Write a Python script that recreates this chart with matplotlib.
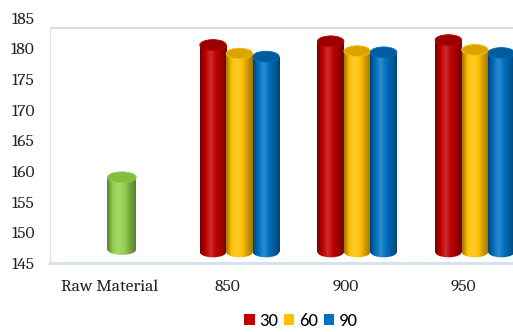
import matplotlib
matplotlib.use('Agg')
import matplotlib.pyplot as plt
import numpy as np
from matplotlib import font_manager
from matplotlib.colors import LinearSegmentedColormap
from matplotlib.patches import Ellipse, Patch

# data
categories = ['Raw Material', '850', '900', '950']
raw_value = 159.0
series_names = ['30', '60', '90']
s30 = [180.6, 181.2, 181.4]
s60 = [179.2, 179.6, 179.8]
s90 = [178.7, 179.4, 179.3]
y_ticks = [145, 150, 155, 160, 165, 170, 175, 180, 185]

names = {f.name for f in font_manager.fontManager.ttflist}
serif = 'Caladea' if 'Caladea' in names else 'Liberation Serif'
sans = 'Carlito' if 'Carlito' in names else 'Liberation Sans'

colors = {'30': '#c00000', '60': '#ffc000', '90': '#0070c0', 'raw': '#92d050'}
tops = {'30': '#9a0000', '60': '#d9a300', '90': '#005b9f', 'raw': '#7fbf3c'}


def shade(c):
    rgb = np.array(matplotlib.colors.to_rgb(c))
    dark = rgb * 0.62
    light = np.clip(rgb + (1 - rgb) * 0.18, 0, 1)
    return LinearSegmentedColormap.from_list('cyl', [dark, rgb, light, rgb, rgb * 0.8, dark])


def cylinder(ax, x, top, width, color, top_color, base=146.8, eh=1.75):
    cmap = shade(color)
    grad = np.linspace(0, 1, 64).reshape(1, -1)
    # bottom cap
    bot = Ellipse((x, base), width, eh, facecolor='none', edgecolor='none', zorder=2)
    ax.add_patch(bot)
    im = ax.imshow(grad, extent=(x - width / 2, x + width / 2, base - eh, base + eh),
                   cmap=cmap, aspect='auto', zorder=2)
    im.set_clip_path(bot)
    # body
    body = ax.bar(x, top - base, width, bottom=base, color='none', zorder=3)[0]
    im = ax.imshow(grad, extent=(x - width / 2, x + width / 2, base, top),
                   cmap=cmap, aspect='auto', zorder=3)
    im.set_clip_path(body)
    # top cap
    ax.add_patch(Ellipse((x, top), width, eh, facecolor=top_color,
                         edgecolor=color, linewidth=0.6, zorder=4))


fig = plt.figure(figsize=(5.13, 3.32), dpi=100)
ax = fig.add_axes([50 / 513, 69 / 332, 463 / 513, 245 / 332])

xpos = np.arange(len(categories))
w = 0.225
shift = 0.1

cylinder(ax, xpos[0] + shift, raw_value, 0.245, colors['raw'], tops['raw'], base=147.2)
for j, (name, vals) in enumerate(zip(series_names, [s30, s60, s90])):
    for i, v in enumerate(vals):
        cylinder(ax, xpos[i + 1] + shift + (j - 1) * w, v, w, colors[name], tops[name])

ax.set_xlim(-0.51, 3.424)
ax.set_ylim(145, 185)
ax.set_yticks(y_ticks)
ax.set_xticks(xpos)
ax.set_xticklabels(categories, fontfamily=serif, fontsize=12.5)
ax.set_yticklabels([str(t) for t in y_ticks], fontfamily=serif, fontsize=12.5)
ax.tick_params(length=0, pad=11)
ax.tick_params(axis='x', pad=12)
ax.tick_params(colors='#222222')

for s in ['top', 'right', 'left']:
    ax.spines[s].set_visible(False)
ax.spines['bottom'].set_color('#d6e2ee')
ax.spines['bottom'].set_linewidth(2.2)
frame_top = 183.4
ax.axhline(frame_top, color='#e4e0d4', lw=1.5, zorder=1)
ax.axvline(-0.51, ymin=0, ymax=(frame_top - 145) / 40, color='#e4e0d4', lw=1.5, zorder=1)

handles = [Patch(facecolor=colors[n], label=n) for n in series_names]
fig.legend(handles=handles, loc='center', bbox_to_anchor=(301 / 513, 1 - 321 / 332),
           ncol=3, frameon=False, handlelength=0.55, handleheight=0.55,
           handletextpad=0.25, columnspacing=0.3,
           prop={'family': sans, 'size': 13.5})

fig.savefig('out.png', dpi=100)
